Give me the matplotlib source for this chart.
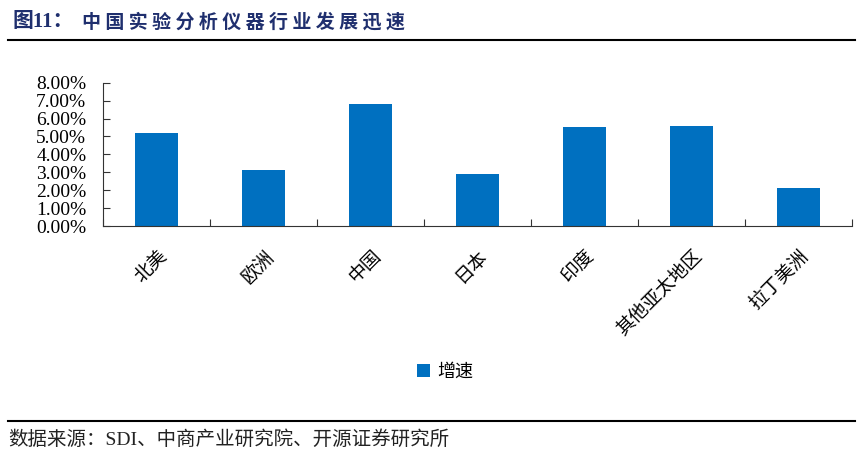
import matplotlib
matplotlib.use("Agg")
import matplotlib.pyplot as plt
import matplotlib.ticker as mtick
import matplotlib.transforms as mtrans
import numpy as np

# data
regions = ["北美", "欧洲", "中国", "日本", "印度", "其他亚太地区", "拉丁美洲"]
growth = [0.052, 0.031, 0.068, 0.029, 0.055, 0.056, 0.021]
yticks = [0.0, 0.01, 0.02, 0.03, 0.04, 0.05, 0.06, 0.07, 0.08]

cjk = ["Noto Sans CJK SC", "DejaVu Sans"]
serif = ["Liberation Serif", "Noto Sans CJK SC"]
bar_color = "#0070C0"

fig = plt.figure(figsize=(8.65, 4.68), dpi=100)
ax = fig.add_axes([103 / 865, 1 - 226 / 468, 749 / 865, (226 - 82.7) / 468])

x = np.arange(len(regions))
ax.bar(x, growth, width=0.4, color=bar_color, label="增速")

ax.set_xlim(-0.5, len(regions) - 0.5)
ax.set_ylim(0, 0.08)
ax.set_yticks(yticks)
ax.yaxis.set_major_formatter(mtick.PercentFormatter(1.0, decimals=2))
for lab in ax.get_yticklabels():
    lab.set_family(serif)
    lab.set_fontsize(14)

# category boundary ticks, labels at centres
ax.set_xticks(np.arange(-0.5, len(regions), 1.0))
ax.set_xticklabels([])
ax.set_xticks(x, minor=True)
ax.set_xticklabels(regions, minor=True, rotation=45, ha="right", va="top",
                   rotation_mode="anchor", family=cjk, fontsize=13.5)
shift = mtrans.ScaledTranslation(7 / 100, 0, fig.dpi_scale_trans)
for lab in ax.get_xticklabels(minor=True):
    lab.set_transform(lab.get_transform() + shift)
ax.tick_params(axis="x", which="minor", length=0, pad=14)
ax.tick_params(axis="both", which="major", direction="in", length=5, width=0.8, colors="#333333")
ax.tick_params(axis="y", labelcolor="black", pad=12)

for s in ["top", "right"]:
    ax.spines[s].set_visible(False)
for s in ["left", "bottom"]:
    ax.spines[s].set_color("#333333")
    ax.spines[s].set_linewidth(0.8)

ax.legend(loc="center", bbox_to_anchor=(445 / 865, 1 - 372 / 468),
          bbox_transform=fig.transFigure, frameon=False,
          prop={"family": cjk, "size": 13}, handlelength=0.7, handleheight=0.7,
          handletextpad=0.4)

# title and footer
fig.text(12 / 865, 1 - 22 / 468, "图11：", family=serif, fontsize=15, fontweight="bold",
         color="#1F2F6E", va="center", ha="left")
fig.text(82 / 865, 1 - 22 / 468, "中 国 实 验 分 析 仪 器 行 业 发 展 迅 速", family=cjk,
         fontsize=13.7, fontweight="bold", color="#1F2F6E", va="center", ha="left")
fig.add_artist(plt.Line2D([8 / 865, 855 / 865], [1 - 40 / 468, 1 - 40 / 468],
                          transform=fig.transFigure, color="black", lw=1.5))
fig.add_artist(plt.Line2D([8 / 865, 855 / 865], [1 - 421 / 468, 1 - 421 / 468],
                          transform=fig.transFigure, color="black", lw=1.5))
fig.text(8 / 865, 1 - 440 / 468, "数据来源：SDI、中商产业研究院、开源证券研究所", family=serif,
         fontsize=14, color="#222222", va="center", ha="left")

fig.savefig("out.png", dpi=100)
